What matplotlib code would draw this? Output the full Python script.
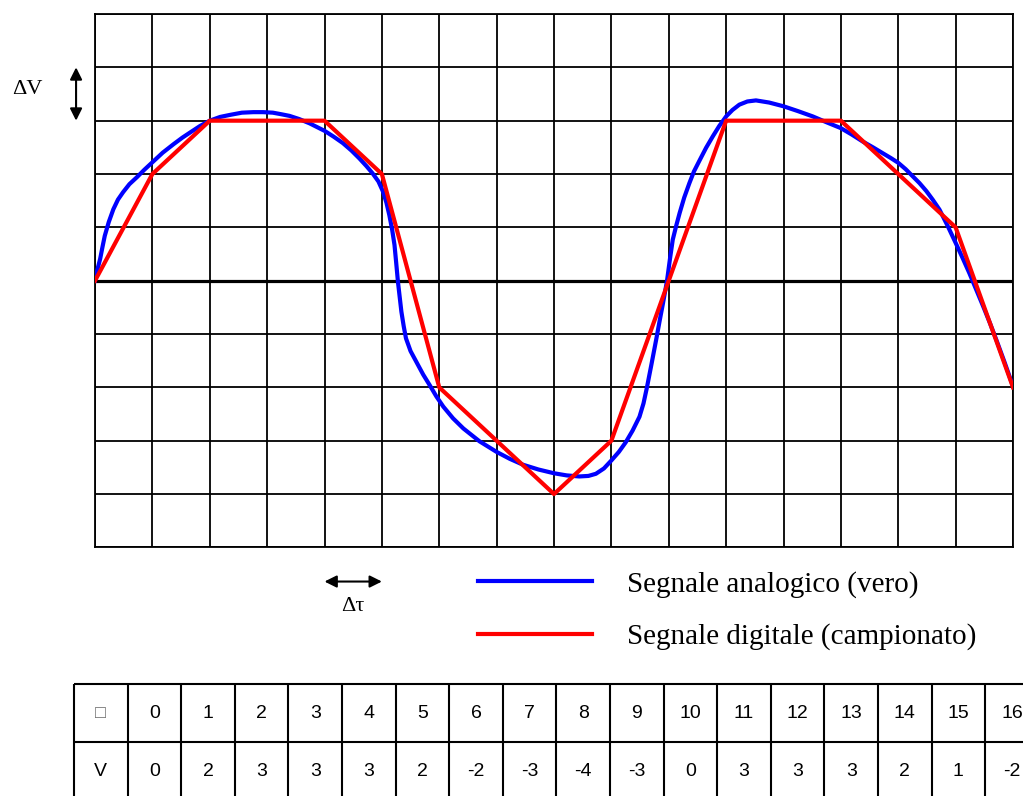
import matplotlib
matplotlib.use("Agg")
import matplotlib.pyplot as plt

# digital (sampled) signal
tau = list(range(17))
v_dig = [0, 2, 3, 3, 3, 2, -2, -3, -4, -3, 0, 3, 3, 3, 2, 1, -2]

# analog signal
t_an = [0, 0.04, 0.09, 0.13, 0.17, 0.24, 0.32, 0.4, 0.49, 0.6, 0.73, 0.86,
        1.0, 1.18, 1.37, 1.52, 1.66, 1.83, 2.0, 2.18, 2.36, 2.56, 2.76, 2.93,
        3.1, 3.25, 3.39, 3.56, 3.74, 3.87, 4.0, 4.16, 4.32, 4.47, 4.61, 4.73,
        4.84, 4.94, 5.02, 5.08, 5.13, 5.18, 5.22, 5.25, 5.28, 5.31, 5.34,
        5.38, 5.42, 5.5, 5.6, 5.72, 5.84, 5.95, 6.07, 6.24, 6.42, 6.7, 7.0,
        7.23, 7.46, 7.73, 8.0, 8.22, 8.44, 8.6, 8.73, 8.87, 9.0, 9.13, 9.25,
        9.37, 9.49, 9.56, 9.62, 9.7, 9.78, 9.84, 9.9, 9.97, 10.02, 10.07,
        10.13, 10.19, 10.27, 10.36, 10.44, 10.53, 10.65, 10.77, 10.88, 11.0,
        11.11, 11.23, 11.37, 11.52, 11.75, 12.0, 12.25, 12.51, 12.75, 13.0,
        13.19, 13.38, 13.56, 13.73, 13.87, 14.0, 14.13, 14.25, 14.37, 14.49,
        14.6, 14.72, 14.86, 15.0, 15.12, 15.24, 15.36, 15.48, 15.6, 15.71,
        15.85, 16.0]
v_an = [0, 0.2, 0.41, 0.63, 0.84, 1.1, 1.34, 1.52, 1.66, 1.81, 1.94, 2.08,
        2.22, 2.4, 2.56, 2.68, 2.78, 2.9, 3.0, 3.07, 3.11, 3.15, 3.16, 3.16,
        3.15, 3.12, 3.09, 3.03, 2.95, 2.88, 2.81, 2.7, 2.58, 2.44, 2.29, 2.15,
        2.01, 1.86, 1.67, 1.46, 1.23, 0.95, 0.67, 0.33, -0.02, -0.3, -0.58,
        -0.85, -1.08, -1.32, -1.52, -1.76, -1.97, -2.17, -2.36, -2.58, -2.77,
        -3.01, -3.21, -3.34, -3.45, -3.54, -3.61, -3.65, -3.67, -3.66, -3.62,
        -3.52, -3.37, -3.21, -3.03, -2.81, -2.55, -2.3, -2.0, -1.56, -1.11,
        -0.76, -0.42, 0.0, 0.4, 0.77, 1.03, 1.27, 1.56, 1.83, 2.05, 2.24, 2.49,
        2.71, 2.9, 3.08, 3.2, 3.3, 3.36, 3.38, 3.34, 3.27, 3.18, 3.08, 2.97,
        2.86, 2.74, 2.61, 2.5, 2.39, 2.3, 2.21, 2.09, 1.96, 1.83, 1.68, 1.52,
        1.33, 1.03, 0.71, 0.43, 0.14, -0.17, -0.48, -0.8, -1.11, -1.52, -1.98]

row_labels = ["\u25a1", "V"]
labels = ["Segnale analogico (vero)", "Segnale digitale (campionato)"]

W, H = 1023, 796
fig = plt.figure(figsize=(W / 100, H / 100), dpi=100)

# main grid
ax = fig.add_axes([95 / W, (H - 547.4) / H, 918 / W, 533.4 / H])
ax.set_xlim(0, 16)
ax.set_ylim(-5, 5)
ax.set_xticks(range(17))
ax.set_yticks(range(-5, 6))
ax.tick_params(length=0, labelbottom=False, labelleft=False)
ax.grid(True, color="black", lw=1.3)
for s in ax.spines.values():
    s.set_linewidth(1.3)
ax.axhline(0, color="black", lw=2.3)

ax.plot(t_an, v_an, color="#0000ff", lw=3, label=labels[0],
        solid_joinstyle="round", zorder=3)
ax.plot(tau, v_dig, color="#ff0000", lw=3, label=labels[1],
        solid_joinstyle="round", zorder=4)

serif = "Liberation Serif"
arrow = dict(arrowstyle="<|-|>", color="black", lw=1.5,
             mutation_scale=18, shrinkA=0, shrinkB=0)
ax.annotate("", xy=(-0.33, 4), xytext=(-0.33, 3), annotation_clip=False,
            arrowprops=arrow)
ax.text(-1.17, 3.58, "\u0394V", family=serif, fontsize=16,
        ha="center", va="center", clip_on=False)
ax.annotate("", xy=(4, -5.64), xytext=(5, -5.64), annotation_clip=False,
            arrowprops=arrow)
ax.text(4.5, -6.1, "\u0394\u03c4", family=serif, fontsize=16,
        ha="center", va="center", clip_on=False)

fig.legend(loc="center left", bbox_to_anchor=(478 / W, (H - 610.5) / H),
           frameon=False, borderpad=0, borderaxespad=0, handlelength=3.9,
           handletextpad=1.2, labelspacing=0.87,
           prop=dict(family=serif, size=21))

# table
tx = fig.add_axes([74 / W, (H - 800) / H, 18 * 53.6 / W, 116 / H])
tx.set_xlim(0, 18)
tx.set_ylim(2, 0)
tx.axis("off")
tx.hlines([0, 1, 2], 0, 18, color="black", lw=1.5, clip_on=False)
tx.vlines(range(19), 0, 2, color="black", lw=1.5, clip_on=False)
tx.text(0.5, 0.5, row_labels[0], ha="center", va="center",
        family="Liberation Sans", fontsize=13, color="#666666")
tx.text(0.5, 1.5, row_labels[1], ha="center", va="center",
        family="Liberation Sans", fontsize=14)
for i in range(17):
    tx.text(i + 1.5, 0.5, str(tau[i]), ha="center", va="center",
            family="Liberation Sans", fontsize=14)
    tx.text(i + 1.5, 1.5, str(v_dig[i]), ha="center", va="center",
            family="Liberation Sans", fontsize=14)

fig.savefig("out.png", dpi=100)
